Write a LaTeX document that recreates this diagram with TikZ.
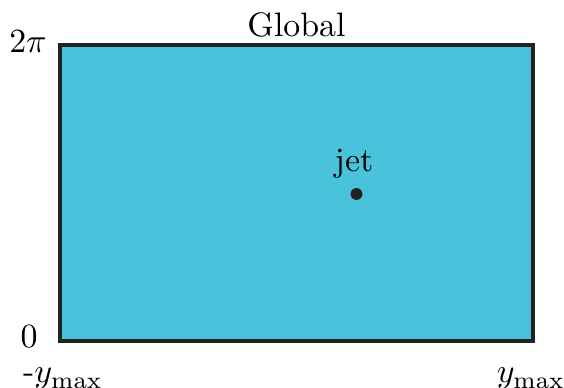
\documentclass[tikz,border=0pt]{standalone}
\definecolor{boxfill}{HTML}{48C3DB}
\definecolor{boxline}{HTML}{222222}
\begin{document}
\begin{tikzpicture}[x=0.295pt,y=-0.295pt,
  region/.style={draw=boxline,fill=boxfill,line width=0.9pt},
  lbl/.style={inner sep=0pt,anchor=base,text=black},
  jetdot/.style={fill=boxline,circle,inner sep=0pt,minimum size=3.5pt}]
\useasboundingbox (0,0) rectangle (564,388);
\draw[region] (60,45) rectangle (533,341);
\node[lbl] (title) at (296.5,37) {Global};
\node[lbl] (top) at (28,52.5) {$2\pi$};
\node[lbl] (zero) at (29,348) {$0$};
\node[lbl] (ymin) at (63,383) {-$y_{\max}$};
\node[lbl] (ymax) at (531,383) {$y_{\max}$};
\node[jetdot] (jet) at (356.5,194) {};
\node[lbl] (jetlbl) at (354,172) {jet};
\end{tikzpicture}
\end{document}
